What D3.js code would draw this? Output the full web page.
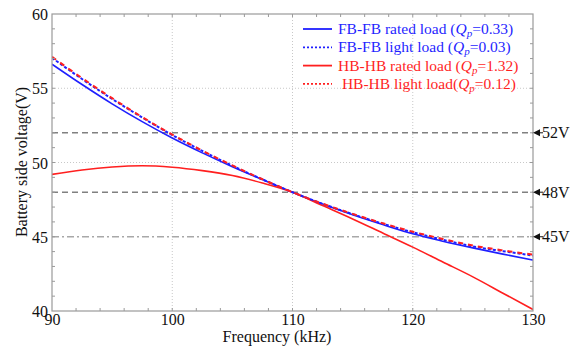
<!DOCTYPE html>
<html>
<head>
<meta charset="utf-8">
<script src="https://cdn.jsdelivr.net/npm/d3@7"></script>
<style>
  html, body { margin: 0; padding: 0; background: #fff; }
  svg { display: block; font-family: "Liberation Serif", "Times New Roman", serif; }
</style>
</head>
<body>
<svg id="chart" width="583" height="349"></svg>
<script>
// Switching frequency samples (kHz)
const freq = [90, 92.5, 95, 97.5, 100, 102.5, 105, 107.5, 110, 112.5, 115, 117.5, 120, 122.5, 125, 127.5, 130];

// Battery side voltage (V) for each bridge configuration / load
const fbRated = [56.62, 55.25, 53.95, 52.75, 51.65, 50.65, 49.72, 48.85, 48.0, 47.2, 46.48, 45.82, 45.2, 44.7, 44.25, 43.83, 43.43];
const fbLight = [57.05, 55.62, 54.28, 53.03, 51.85, 50.78, 49.78, 48.86, 48.0, 47.22, 46.52, 45.88, 45.3, 44.8, 44.35, 44.03, 43.73];
const hbRated = [49.2, 49.5, 49.7, 49.78, 49.68, 49.45, 49.12, 48.62, 48.0, 47.1, 46.2, 45.25, 44.3, 43.3, 42.3, 41.2, 40.1];
const hbLight = [57.12, 55.68, 54.33, 53.06, 51.88, 50.8, 49.8, 48.87, 48.0, 47.23, 46.54, 45.91, 45.34, 44.85, 44.41, 44.08, 43.8];

// Axis ticks
const xTicks = [90, 100, 110, 120, 130];
const yTicks = [40, 45, 50, 55, 60];

// Reference voltage levels marked on the right
const refLevels = [52, 48, 45];
const refLabels = ["52V", "48V", "45V"];

// Legend entries
const legendNames = ["FB-FB rated load (", "FB-FB light load (", "HB-HB rated load (", " HB-HB light load("];
const legendQ = ["0.33)", "0.03)", "1.32)", "0.12)"];

const svg = d3.select("#chart");
const plotL = 52, plotR = 533, plotT = 14, plotB = 311;

const x = d3.scaleLinear().domain([90, 130]).range([plotL, plotR]);
const y = d3.scaleLinear().domain([40, 60]).range([plotB, plotT]);

const axisColor = "#9a9a9a";

// Dotted grid
const grid = svg.append("g");
grid.selectAll("line.vx").data([100, 110, 120]).join("line")
  .attr("x1", d => x(d)).attr("x2", d => x(d))
  .attr("y1", plotT).attr("y2", plotB)
  .attr("stroke", "#c8c8c8").attr("stroke-width", 1).attr("stroke-dasharray", "1,2");
grid.selectAll("line.hy").data([50, 55]).join("line")
  .attr("x1", plotL).attr("x2", plotR)
  .attr("y1", d => y(d)).attr("y2", d => y(d))
  .attr("stroke", "#c8c8c8").attr("stroke-width", 1).attr("stroke-dasharray", "1,2");

// Reference voltage lines
svg.selectAll("line.ref").data(refLevels).join("line")
  .attr("x1", plotL).attr("x2", plotR)
  .attr("y1", d => y(d)).attr("y2", d => y(d))
  .attr("stroke", d => d === 45 ? "#a8a8a8" : "#808080")
  .attr("stroke-width", 1.5)
  .attr("stroke-dasharray", d => d === 45 ? "7,3,2,3" : "6,4");

// Curves
const line = d3.line().x((d, i) => x(freq[i])).y(d => y(d)).curve(d3.curveMonotoneX);
svg.append("clipPath").attr("id", "plotClip").append("rect")
  .attr("x", plotL).attr("y", plotT).attr("width", plotR - plotL).attr("height", plotB - plotT);
const curves = svg.append("g").attr("clip-path", "url(#plotClip)");
curves.append("path").datum(fbRated).attr("d", line)
  .attr("fill", "none").attr("stroke", "#1f1fff").attr("stroke-width", 1.6);
curves.append("path").datum(hbRated).attr("d", line)
  .attr("fill", "none").attr("stroke", "#ff1f1f").attr("stroke-width", 1.6);
curves.append("path").datum(fbLight).attr("d", line)
  .attr("fill", "none").attr("stroke", "#1f1fff").attr("stroke-width", 2).attr("stroke-dasharray", "3,2");
curves.append("path").datum(hbLight).attr("d", line)
  .attr("fill", "none").attr("stroke", "#ff2020").attr("stroke-width", 2).attr("stroke-dasharray", "5,5");

// Frame and axes
const axG = svg.append("g");
const xb = axG.append("g").attr("transform", `translate(0,${plotB})`)
  .call(d3.axisBottom(x).tickValues(xTicks).tickSize(0).tickPadding(6).tickFormat(d3.format("d")));
const yl = axG.append("g").attr("transform", `translate(${plotL},0)`)
  .call(d3.axisLeft(y).tickValues(yTicks).tickSize(0).tickPadding(4).tickFormat(d3.format("d")));
[xb, yl].forEach(g => {
  g.select(".domain").remove();
  g.selectAll("text").attr("font-family", "Liberation Serif").attr("font-size", 16).attr("fill", "#111");
});
xb.selectAll("text").attr("dy", "0.71em").attr("y", 3);
yl.selectAll("text").attr("dy", "0.35em");

axG.append("rect").attr("x", plotL).attr("y", plotT)
  .attr("width", plotR - plotL).attr("height", plotB - plotT)
  .attr("fill", "none").attr("stroke", axisColor).attr("stroke-width", 1.2);

// Minor ticks pointing inward
const minorX = d3.range(92, 130, 2);
const minorY = d3.range(41, 60, 1);
axG.selectAll("line.mxb").data(minorX).join("line")
  .attr("x1", d => x(d)).attr("x2", d => x(d)).attr("y1", plotB).attr("y2", plotB - 3)
  .attr("stroke", axisColor);
axG.selectAll("line.mxt").data(minorX).join("line")
  .attr("x1", d => x(d)).attr("x2", d => x(d)).attr("y1", plotT).attr("y2", plotT + 3)
  .attr("stroke", axisColor);
axG.selectAll("line.myl").data(minorY).join("line")
  .attr("x1", plotL).attr("x2", plotL + 3).attr("y1", d => y(d)).attr("y2", d => y(d))
  .attr("stroke", axisColor);
axG.selectAll("line.myr").data(minorY).join("line")
  .attr("x1", plotR).attr("x2", plotR - 3).attr("y1", d => y(d)).attr("y2", d => y(d))
  .attr("stroke", axisColor);

// Axis titles
svg.append("text").attr("x", 277).attr("y", 342)
  .attr("text-anchor", "middle").attr("font-size", 16).attr("fill", "#111")
  .text("Frequency (kHz)");
svg.append("text").attr("transform", "translate(27,162) rotate(-90)")
  .attr("text-anchor", "middle").attr("font-size", 16).attr("fill", "#111")
  .text("Battery side voltage(V)");

// Reference level markers
const mk = svg.selectAll("g.mk").data(refLevels).join("g")
  .attr("transform", d => `translate(${plotR},${y(d)})`);
mk.append("path").attr("d", "M0,0 L7,-3.5 L7,3.5 Z").attr("fill", "#111");
mk.append("line").attr("x1", 6).attr("x2", 10).attr("y1", 0).attr("y2", 0).attr("stroke", "#111").attr("stroke-width", 1);
mk.append("text").attr("x", 9).attr("dy", "0.35em")
  .attr("font-size", 16).attr("fill", "#111")
  .text((d, i) => refLabels[i]);

// Legend
const legColors = ["#1f1fff", "#1f1fff", "#ff1f1f", "#ff1f1f"];
const legDash = [null, "2,2", null, "2,2"];
const legRows = svg.selectAll("g.leg").data(legendNames).join("g")
  .attr("transform", (d, i) => `translate(303,${29 + i * 18.3})`);
legRows.append("line").attr("x1", 0).attr("x2", 29).attr("y1", 0).attr("y2", 0)
  .attr("stroke", (d, i) => legColors[i]).attr("stroke-width", 1.8)
  .attr("stroke-dasharray", (d, i) => legDash[i]);
const lt = legRows.append("text").attr("x", 35).attr("y", 5)
  .attr("font-size", 15.5).attr("fill", (d, i) => legColors[i])
  .style("white-space", "pre");
lt.append("tspan").text(d => d);
lt.append("tspan").attr("font-style", "italic").text("Q");
lt.append("tspan").attr("font-style", "italic").attr("font-size", 11).attr("dy", 3).text("p");
lt.append("tspan").attr("dy", -3).text((d, i) => "=" + legendQ[i]);
</script>
</body>
</html>
